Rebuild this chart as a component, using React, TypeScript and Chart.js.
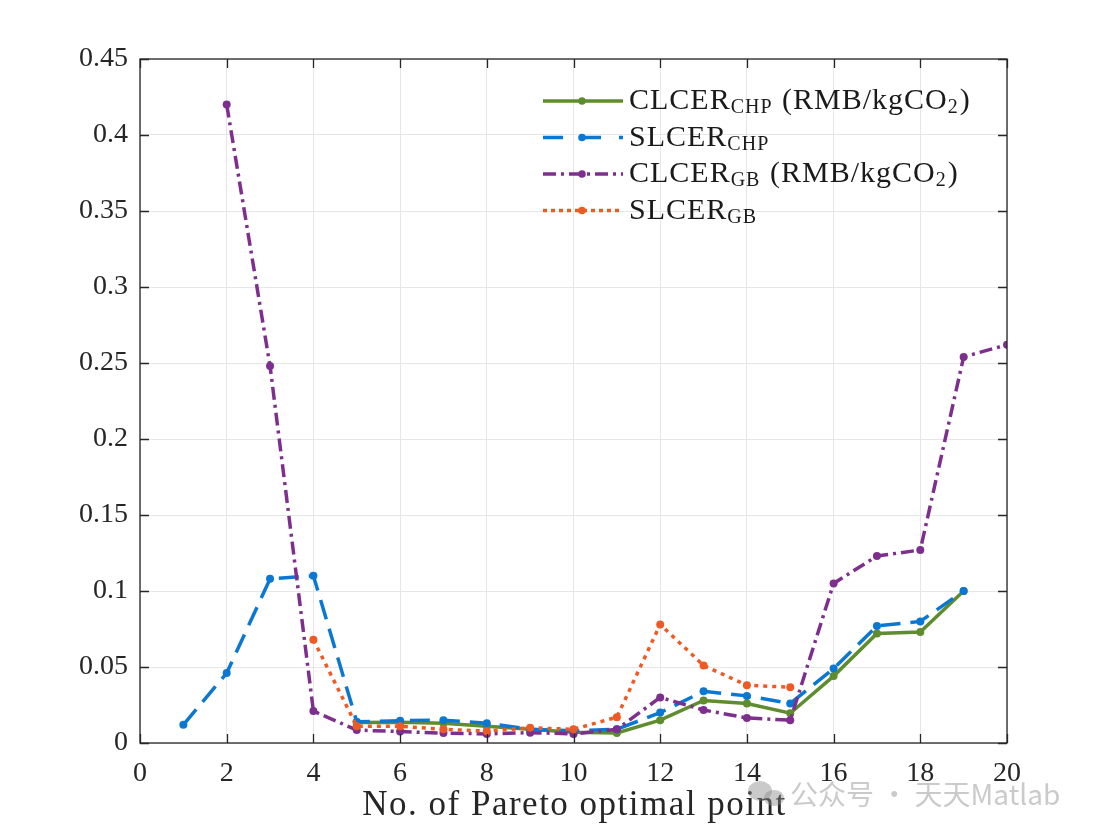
import * as React from 'react';
import { Chart, registerables } from 'chart.js';

Chart.register(...registerables);

// x: No. of Pareto optimal point
const pointIndex = [1, 2, 3, 4, 5, 6, 7, 8, 9, 10, 11, 12, 13, 14, 15, 16, 17, 18, 19, 20];

const clcerChp = [null, null, null, null, 0.0135, 0.0137, 0.013, 0.011, 0.009, 0.007, 0.0066, 0.015, 0.028, 0.026, 0.0196, 0.044, 0.072, 0.073, 0.1, null];
const slcerChp = [0.012, 0.046, 0.108, 0.11, 0.014, 0.0147, 0.015, 0.013, 0.009, 0.008, 0.009, 0.02, 0.034, 0.031, 0.026, 0.049, 0.077, 0.08, 0.1, null];
const clcerGb = [null, 0.42, 0.248, 0.021, 0.0085, 0.0075, 0.0065, 0.006, 0.0068, 0.006, 0.009, 0.03, 0.0217, 0.0165, 0.015, 0.105, 0.123, 0.127, 0.254, 0.262];
const slcerGb = [null, null, null, 0.068, 0.011, 0.011, 0.009, 0.0078, 0.01, 0.009, 0.017, 0.078, 0.051, 0.038, 0.0367, null, null, null, null, null];

const xTicks = [0, 2, 4, 6, 8, 10, 12, 14, 16, 18, 20];
const yTicks = [0, 0.05, 0.1, 0.15, 0.2, 0.25, 0.3, 0.35, 0.4, 0.45];

const GREEN = '#5f8c2e';
const BLUE = '#0a78d2';
const PURPLE = '#7e2f8e';
const ORANGE = '#ef5a24';

const SERIF = '"Liberation Serif", "Times New Roman", serif';

const toPoints = (vals: (number | null)[]) =>
  pointIndex.map((x, i) => ({ x, y: vals[i] }));

// legend rows: text pieces, sub = subscript
const legendRows = [
  { color: GREEN, dash: [], parts: [{ t: 'CLCER' }, { t: 'CHP', sub: true }, { t: ' (RMB/kgCO' }, { t: '2', sub: true }, { t: ')' }] },
  { color: BLUE, dash: [20, 18], parts: [{ t: 'SLCER' }, { t: 'CHP', sub: true }] },
  { color: PURPLE, dash: [13, 5, 3, 5], parts: [{ t: 'CLCER' }, { t: 'GB', sub: true }, { t: ' (RMB/kgCO' }, { t: '2', sub: true }, { t: ')' }] },
  { color: ORANGE, dash: [4, 4], parts: [{ t: 'SLCER' }, { t: 'GB', sub: true }] },
];

const decorPlugin = {
  id: 'decor',
  afterDraw(chart: any) {
    const { ctx, chartArea } = chart;
    const { left, right, top, bottom } = chartArea;
    const xs = chart.scales.x;
    const ys = chart.scales.y;
    ctx.save();

    // box + inward ticks
    ctx.strokeStyle = '#262626';
    ctx.lineWidth = 1.3;
    ctx.setLineDash([]);
    ctx.strokeRect(left, top, right - left, bottom - top);
    const tl = 9;
    ctx.beginPath();
    xTicks.forEach((v) => {
      const px = Math.round(xs.getPixelForValue(v)) + 0.5;
      ctx.moveTo(px, bottom);
      ctx.lineTo(px, bottom - tl);
      ctx.moveTo(px, top);
      ctx.lineTo(px, top + tl);
    });
    yTicks.forEach((v) => {
      const py = Math.round(ys.getPixelForValue(v)) + 0.5;
      ctx.moveTo(left, py);
      ctx.lineTo(left + tl, py);
      ctx.moveTo(right, py);
      ctx.lineTo(right - tl, py);
    });
    ctx.stroke();

    // legend
    const lx0 = 543;
    const lx1 = 623;
    const mx = 582;
    const tx = 629;
    legendRows.forEach((row, i) => {
      const ly = 101 + i * 36.5;
      ctx.strokeStyle = row.color;
      ctx.lineWidth = 3.5;
      ctx.setLineDash(row.dash);
      ctx.beginPath();
      ctx.moveTo(lx0, ly);
      ctx.lineTo(lx1, ly);
      ctx.stroke();
      ctx.setLineDash([]);
      ctx.fillStyle = row.color;
      ctx.beginPath();
      ctx.arc(mx, ly, 3.8, 0, Math.PI * 2);
      ctx.fill();

      let x = tx;
      const base = ly + 8;
      ctx.fillStyle = '#1a1a1a';
      ctx.textBaseline = 'alphabetic';
      ctx.textAlign = 'left';
      row.parts.forEach((p: any) => {
        ctx.font = p.sub ? `20px ${SERIF}` : `30px ${SERIF}`;
        ctx.letterSpacing = '1px';
        ctx.fillText(p.t, x, p.sub ? base + 4 : base);
        x += ctx.measureText(p.t).width + (p.sub ? 1 : 0);
      });
    });
    ctx.letterSpacing = '0px';

    // x axis title
    ctx.fillStyle = '#262626';
    ctx.font = `35px ${SERIF}`;
    ctx.letterSpacing = '1.5px';
    ctx.textAlign = 'center';
    ctx.textBaseline = 'middle';
    ctx.fillText('No. of Pareto optimal point', (left + right) / 2 + 1, 806);
    ctx.letterSpacing = '0px';

    // watermark
    ctx.globalAlpha = 0.45;
    ctx.fillStyle = '#8a8a8a';
    ctx.beginPath();
    ctx.ellipse(760, 791, 12, 10, 0, 0, Math.PI * 2);
    ctx.fill();
    ctx.beginPath();
    ctx.ellipse(774, 798, 10, 8, 0, 0, Math.PI * 2);
    ctx.fill();
    ctx.font = `28px "Noto Sans CJK SC", "Noto Sans", sans-serif`;
    ctx.textAlign = 'left';
    ctx.fillText('公众号 · 天天Matlab', 790, 794);
    ctx.restore();
  },
};

const App = () => {
  const canvasRef = React.useRef<HTMLCanvasElement>(null);

  React.useEffect(() => {
    document.body.style.margin = '0';
    if (canvasRef.current === null) return;

    const lineSet = (label: string, vals: any[], color: string, dash: number[], order: number) => ({
      label,
      data: toPoints(vals),
      borderColor: color,
      backgroundColor: color,
      borderWidth: 3.5,
      borderDash: dash,
      pointRadius: 4,
      pointBorderWidth: 0,
      pointBackgroundColor: color,
      fill: false,
      tension: 0,
      spanGaps: false,
      order,
    });

    const chart: any = new Chart(canvasRef.current, {
      type: 'line',
      data: {
        datasets: [
          lineSet('CLCER_CHP (RMB/kgCO2)', clcerChp, GREEN, [], 4),
          lineSet('SLCER_CHP', slcerChp, BLUE, [20, 10], 3),
          lineSet('CLCER_GB (RMB/kgCO2)', clcerGb, PURPLE, [13, 5, 3, 5], 2),
          lineSet('SLCER_GB', slcerGb, ORANGE, [4, 5], 1),
        ] as any,
      },
      options: {
        animation: false,
        responsive: true,
        maintainAspectRatio: false,
        layout: { padding: { left: 0, top: 59, right: 106, bottom: 0 } },
        plugins: {
          legend: { display: false },
          tooltip: { enabled: false },
        },
        scales: {
          x: {
            type: 'linear',
            min: 0,
            max: 20,
            afterFit: (s: any) => {
              s.height = 93;
            },
            afterBuildTicks: (s: any) => {
              s.ticks = xTicks.map((v) => ({ value: v }));
            },
            grid: { color: '#e6e6e6', lineWidth: 1, drawTicks: false },
            border: { display: false },
            ticks: {
              padding: 14,
              color: '#262626',
              font: { family: SERIF, size: 28 },
              maxRotation: 0,
              autoSkip: false,
            },
          },
          y: {
            type: 'linear',
            min: 0,
            max: 0.45,
            afterFit: (s: any) => {
              s.width = 140;
            },
            afterBuildTicks: (s: any) => {
              s.ticks = yTicks.map((v) => ({ value: v }));
            },
            grid: { color: '#e6e6e6', lineWidth: 1, drawTicks: false },
            border: { display: false },
            ticks: {
              padding: 12,
              color: '#262626',
              font: { family: SERIF, size: 28 },
              autoSkip: false,
              callback: (v: any) => String(Math.round(Number(v) * 100) / 100),
            },
          },
        },
      },
      plugins: [decorPlugin],
    });

    return () => {
      chart.destroy();
    };
  }, []);

  return (
    <div style={{ width: 1113, height: 836, position: 'relative', background: '#fff' }}>
      <canvas ref={canvasRef} />
    </div>
  );
};

export default App;
